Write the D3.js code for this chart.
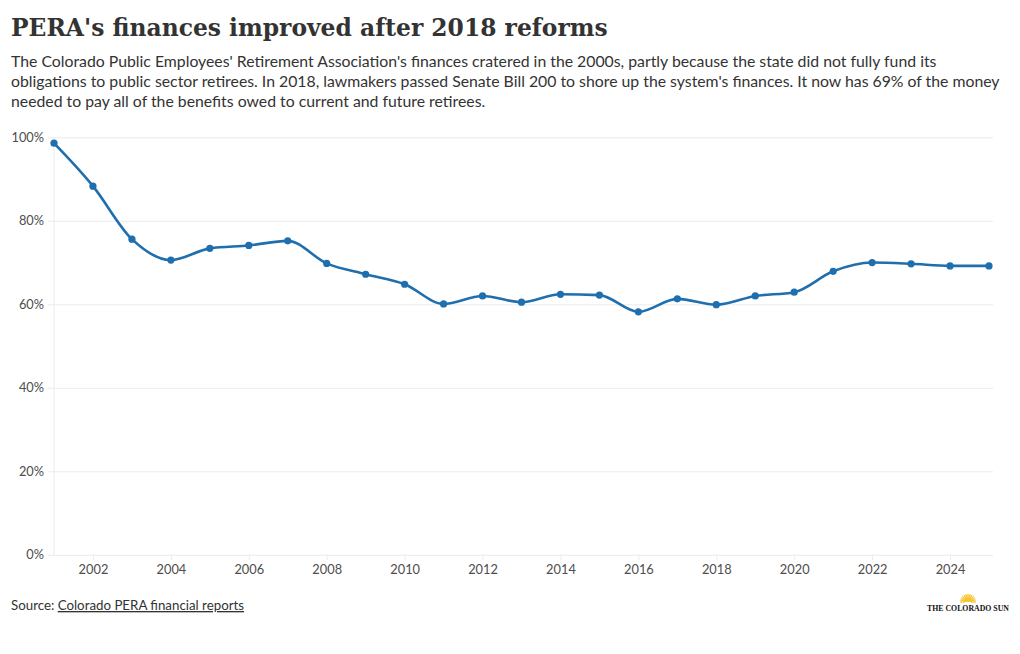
<!DOCTYPE html>
<html>
<head>
<meta charset="utf-8">
<script src="https://cdn.jsdelivr.net/npm/d3@7"></script>
<style>
  body { margin: 0; background: #fff; }
  svg { display: block; }
  .tick text { font-family: Lato, "Noto Sans", sans-serif; font-size: 12.8px; fill: #4d4d4d; }
</style>
</head>
<body>
<div id="chart"></div>
<script>
// Funded ratio of Colorado PERA, by year
const years = [2001, 2002, 2003, 2004, 2005, 2006, 2007, 2008, 2009, 2010, 2011, 2012,
               2013, 2014, 2015, 2016, 2017, 2018, 2019, 2020, 2021, 2022, 2023, 2024, 2025];
const fundedPct = [98.6, 88.3, 75.6, 70.6, 73.4, 74.1, 75.2, 69.8, 67.2, 64.8, 60.1, 62.0,
                   60.5, 62.4, 62.2, 58.2, 61.3, 59.9, 62.0, 62.9, 67.9, 70.0, 69.7, 69.2, 69.2];
const yTicks = [0, 20, 40, 60, 80, 100];
const xTicks = [2002, 2004, 2006, 2008, 2010, 2012, 2014, 2016, 2018, 2020, 2022, 2024];

const title = "PERA's finances improved after 2018 reforms";
const subtitleLines = [
  "The Colorado Public Employees' Retirement Association's finances cratered in the 2000s, partly because the state did not fully fund its",
  "obligations to public sector retirees. In 2018, lawmakers passed Senate Bill 200 to shore up the system's finances. It now has 69% of the money",
  "needed to pay all of the benefits owed to current and future retirees."
];

const width = 1020, height = 654;
const plot = {left: 54, right: 989, gridRight: 993, top: 137.3, bottom: 554.8};
const sans = 'Lato, "Noto Sans", sans-serif';

const data = years.map((y, i) => ({year: y, value: fundedPct[i]}));

const x = d3.scaleLinear()
    .domain([2001, 2025])
    .range([plot.left, plot.right]);

const y = d3.scaleLinear()
    .domain([0, 100])
    .range([plot.bottom, plot.top]);

const svg = d3.select('#chart').append('svg')
    .attr('width', width)
    .attr('height', height);

// Title + subtitle
const titleText = svg.append('text')
   .attr('x', 11)
   .attr('y', 36)
   .attr('font-family', '"DejaVu Serif", serif')
   .attr('font-weight', 'bold')
   .attr('font-size', 25)
   .attr('fill', '#333')
   .text(title);
// fit title to the reference width (~597px)
const tw = titleText.node().getComputedTextLength();
titleText.attr('font-size', 25 * 597 / tw);

svg.append('g')
   .selectAll('text')
   .data(subtitleLines)
   .join('text')
     .attr('x', 11)
     .attr('y', (d, i) => 67 + i * 20)
     .attr('font-family', sans)
     .attr('font-size', 15.8)
     .attr('fill', '#333')
     .text(d => d);

// Grid
svg.append('g')
   .attr('class', 'grid')
   .attr('transform', `translate(${plot.left},0)`)
   .call(d3.axisLeft(y)
           .tickValues(yTicks)
           .tickSize(-(plot.gridRight - plot.left))
           .tickFormat(''))
   .call(g => g.select('.domain').remove())
   .call(g => g.selectAll('line').attr('stroke', '#ebebeb'));

// Y axis line + labels
svg.append('line')
   .attr('x1', plot.left).attr('x2', plot.left)
   .attr('y1', plot.top).attr('y2', plot.bottom)
   .attr('stroke', '#ebebeb');

svg.append('g')
   .attr('class', 'y-axis')
   .attr('transform', `translate(${plot.left},0)`)
   .call(d3.axisLeft(y)
           .tickValues(yTicks)
           .tickSize(6)
           .tickPadding(4)
           .tickFormat(d => d + '%'))
   .call(g => g.select('.domain').remove())
   .call(g => g.selectAll('line').attr('stroke', '#ebebeb'));

// X axis
svg.append('g')
   .attr('class', 'x-axis')
   .attr('transform', `translate(0,${plot.bottom})`)
   .call(d3.axisBottom(x)
           .tickValues(xTicks)
           .tickSize(5)
           .tickPadding(5)
           .tickFormat(d3.format('d')))
   .call(g => g.select('.domain').remove())
   .call(g => g.selectAll('line').attr('stroke', '#ebebeb'));

// Line
const line = d3.line()
    .curve(d3.curveMonotoneX)
    .x(d => x(d.year))
    .y(d => y(d.value));

svg.append('path')
   .datum(data)
   .attr('fill', 'none')
   .attr('stroke', '#1f6fae')
   .attr('stroke-width', 2.6)
   .attr('d', line);

svg.append('g')
   .selectAll('circle')
   .data(data)
   .join('circle')
     .attr('cx', d => x(d.year))
     .attr('cy', d => y(d.value))
     .attr('r', 3.6)
     .attr('fill', '#1f6fae');

// Footer
const source = svg.append('text')
   .attr('x', 11)
   .attr('y', 610)
   .attr('font-family', sans)
   .attr('font-size', 13.3)
   .attr('fill', '#333');
source.append('tspan').text('Source: ');
source.append('tspan')
   .attr('text-decoration', 'underline')
   .text('Colorado PERA financial reports');

// Logo: sun + wordmark
const logo = svg.append('g').attr('transform', 'translate(968,602)');
d3.range(13).forEach(i => {
  const a = Math.PI + (i / 12) * Math.PI;
  logo.append('line')
      .attr('x1', Math.cos(a) * 3).attr('y1', Math.sin(a) * 3)
      .attr('x2', Math.cos(a) * 8).attr('y2', Math.sin(a) * 8)
      .attr('stroke', '#f6c531')
      .attr('stroke-width', 1.3);
});
logo.append('path')
    .attr('d', d3.arc()({innerRadius: 0, outerRadius: 4, startAngle: -Math.PI / 2, endAngle: Math.PI / 2}))
    .attr('fill', '#f6c531');

svg.append('text')
   .attr('x', 968)
   .attr('y', 611)
   .attr('text-anchor', 'middle')
   .attr('font-family', '"Liberation Serif", serif')
   .attr('font-weight', 'bold')
   .attr('font-size', 7.8)
   .attr('fill', '#111')
   .text('THE COLORADO SUN');
</script>
</body>
</html>
